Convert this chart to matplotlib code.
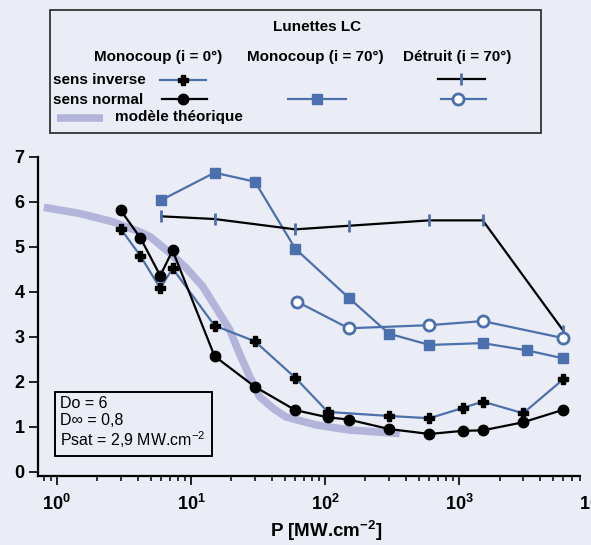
import matplotlib
matplotlib.use('Agg')
import matplotlib.pyplot as plt
from matplotlib.patches import Rectangle
from matplotlib.transforms import offset_copy

plt.rcParams['font.family'] = ['Liberation Sans', 'DejaVu Sans']
plt.rcParams['mathtext.default'] = 'regular'

# Monocoup (i = 0°)
P_inv0 = [3, 4.2, 5.9, 7.3, 15, 30, 60, 105, 300, 600, 1070, 1500, 3000, 6000]
D_inv0 = [5.40, 4.80, 4.08, 4.52, 3.25, 2.90, 2.09, 1.33, 1.24, 1.19, 1.42, 1.56, 1.30, 2.06]
P_nor0 = [3, 4.2, 5.9, 7.3, 15, 30, 60, 105, 150, 300, 600, 1070, 1500, 3000, 6000]
D_nor0 = [5.81, 5.20, 4.36, 4.92, 2.57, 1.89, 1.37, 1.21, 1.16, 0.95, 0.84, 0.91, 0.92, 1.10, 1.38]
# Monocoup (i = 70°)
P_nor70 = [6, 15, 30, 60, 150, 300, 600, 1500, 3200, 6000]
D_nor70 = [6.04, 6.65, 6.45, 4.96, 3.87, 3.07, 2.82, 2.86, 2.70, 2.52]
# Détruit (i = 70°)
P_dinv = [6, 15, 60, 150, 600, 1500, 6000]
D_dinv = [5.68, 5.62, 5.39, 5.47, 5.59, 5.59, 3.13]
P_dnor = [62, 150, 600, 1500, 6000]
D_dnor = [3.78, 3.19, 3.26, 3.35, 2.97]
# modèle théorique
P_th = [0.8, 1.5, 2.6, 4.2, 5.0, 7.0, 9.3, 12.3, 15.5, 19.5, 23, 27.5, 32.5, 41, 51, 86, 150, 360]
D_th = [5.88, 5.74, 5.56, 5.33, 5.22, 4.86, 4.52, 4.11, 3.63, 3.15, 2.63, 2.11, 1.67, 1.41, 1.22, 1.04, 0.93, 0.85]

xtick_vals = [1, 10, 100, 1000]
xtick_labels = [r'$10^{0}$', r'$10^{1}$', r'$10^{2}$', r'$10^{3}$']

blue = '#4c70ad'
lav = '#b2b5d9'
bg = '#eaedf5'

fig = plt.figure(figsize=(5.91, 5.45), dpi=100, facecolor=bg)
ax = fig.add_axes([0.0638, 0.127, 0.918, 0.585])
ax.set_facecolor(bg)

ax.plot(P_th, D_th, color=lav, lw=5.5, solid_capstyle='butt', zorder=1)
ax.plot(P_nor70, D_nor70, color=blue, lw=1.6, marker='s', ms=6.5, mfc=blue, mec=blue, zorder=3)
ax.plot(P_dinv, D_dinv, color='black', lw=1.6, marker='|', ms=8, mew=2, mec=blue, zorder=3)
ax.plot(P_dnor, D_dnor, color=blue, lw=1.6, marker='o', ms=8, mfc='white', mec=blue, mew=2, zorder=3)
ax.plot(P_inv0, D_inv0, color=blue, lw=1.6, marker='P', ms=7.5, mfc='black', mec='black', zorder=4)
ax.plot(P_nor0, D_nor0, color='black', lw=1.6, marker='o', ms=7.5, mfc='black', mec='black', zorder=4)

ax.set_xscale('log')
ax.set_xlim(0.72, 8000)
ax.set_ylim(-0.09, 7)
ax.set_yticks(range(8))
ax.set_xticks(xtick_vals)
ax.set_xticklabels(xtick_labels)
for s in ['top', 'right']:
    ax.spines[s].set_visible(False)
for s in ['left', 'bottom']:
    ax.spines[s].set_linewidth(1.6)
ax.tick_params(which='major', direction='out', length=6.5, width=1.2, labelsize=13)
ax.tick_params(axis='x', which='major', pad=6.5)
ax.tick_params(axis='y', which='major', pad=3)
ax.tick_params(which='minor', direction='out', length=3.5, width=1.1)
for lab in ax.get_xticklabels() + ax.get_yticklabels():
    lab.set_fontweight('bold')
# partly visible 10^4 label at the right edge
tr = offset_copy(ax.get_xaxis_transform(), fig=fig, x=0, y=-(6.5 + 6.5), units='points')
ax.text(1e4, 0, r'$10^{4}$', transform=tr, fontsize=13, fontweight='bold',
        ha='center', va='top', clip_on=False)
ax.set_xlabel(r'P [MW.cm$^{-2}$]', fontsize=13.5, fontweight='bold')
ax.xaxis.set_label_coords((326 - 37.7) / 542.6, -0.135)

ax.text(0.042, 0.165, 'Do = 6\nD\u221e = 0,8\nPsat = 2,9 MW.cm$^{-2}$', transform=ax.transAxes,
        fontsize=11.5, va='center', ha='left', linespacing=1.1,
        bbox=dict(boxstyle='square,pad=0.35', fc='none', ec='black', lw=1.4))

# legend block drawn in pixel coordinates
lax = fig.add_axes([0, 0, 1, 1], zorder=5)
lax.set_xlim(0, 591)
lax.set_ylim(545, 0)
lax.axis('off')
lax.add_patch(Rectangle((50, 9.5), 491, 123, fc='none', ec='#333333', lw=1.3))
kw = dict(fontsize=11, fontweight='bold', va='center')
lax.text(316.7, 27, 'Lunettes LC', ha='center', **kw)
lax.text(158, 57, 'Monocoup (i = 0\u00b0)', ha='center', **kw)
lax.text(315, 57, 'Monocoup (i = 70\u00b0)', ha='center', **kw)
lax.text(456.7, 57, 'D\u00e9truit (i = 70\u00b0)', ha='center', **kw)
lax.text(53, 80.5, 'sens inverse', ha='left', **kw)
lax.text(53, 99.5, 'sens normal', ha='left', **kw)
lax.text(115, 117.5, 'mod\u00e8le th\u00e9orique', ha='left', **kw)
lax.plot([160, 206], [80, 80], color=blue, lw=1.6)
lax.plot([183], [80], marker='P', ms=7.5, color='black')
lax.plot([162, 207], [99, 99], color='black', lw=1.6)
lax.plot([183], [99], marker='o', ms=7.5, color='black')
lax.plot([288, 346], [99, 99], color=blue, lw=1.6)
lax.plot([317], [99], marker='s', ms=6.5, color=blue)
lax.plot([438, 485], [78.5, 78.5], color='black', lw=1.6)
lax.plot([461], [78.5], marker='|', ms=8, mew=2, color=blue)
lax.plot([441, 486], [99, 99], color=blue, lw=1.6)
lax.plot([458], [99], marker='o', ms=8, mfc='white', mec=blue, mew=2)
lax.plot([57, 103], [117.5, 117.5], color=lav, lw=5.5, solid_capstyle='butt')

fig.savefig('out.png', dpi=100, facecolor=bg)
